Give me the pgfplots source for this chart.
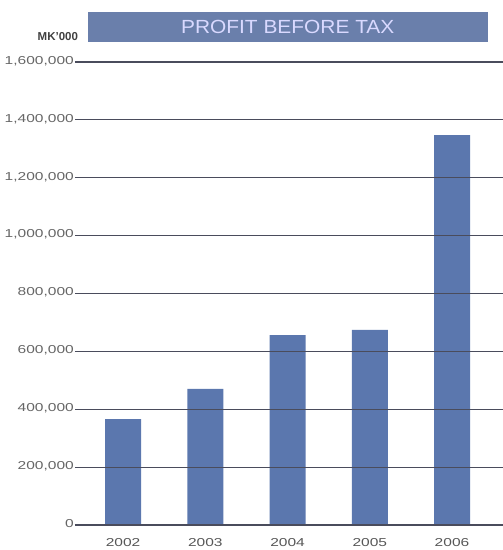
\documentclass[border=0pt]{standalone}
\usepackage{fontspec}
\usepackage{pgfplots}
\pgfplotsset{compat=1.18}
\setmainfont{Liberation Sans}
\newfontfamily\tickfont[FakeStretch=1.35]{Liberation Sans}
\newfontfamily\titlefont[FakeStretch=1.1]{Liberation Sans}
\definecolor{barblue}{HTML}{5B77AE}
\definecolor{titlebox}{HTML}{6A7FAB}
\definecolor{gridc}{HTML}{4A4C5C}
\definecolor{labc}{HTML}{666666}
\begin{document}
\begin{tikzpicture}
\begin{axis}[
  at={(75pt,25pt)}, anchor=south west,
  scale only axis, width=428pt, height=463pt,
  xmin=-0.585, xmax=4.62, ymin=0, ymax=1600000,
  xtick={0,1,2,3,4}, xticklabels={2002,2003,2004,2005,2006},
  ytick={0,200000,400000,600000,800000,1000000,1200000,1400000,1600000},
  scaled y ticks=false,
  /pgf/number format/.cd, fixed, 1000 sep={,}, assume math mode=true, /pgfplots/.cd,
  yticklabel style={font=\tickfont\fontsize{11.5}{12}\selectfont, text=labc, inner sep=0pt, xshift=-1pt, yshift=1pt},
  xticklabel style={font=\tickfont\fontsize{11.5}{12}\selectfont, text=labc!85!black, yshift=-6pt},
  axis line style={draw=none},
  tick style={draw=none},
  ymajorgrids, grid style={gridc, line width=1.1pt},
  ybar, bar width=36pt,
  axis on top,
  clip=false,
]
\addplot[fill=barblue, draw=none] coordinates {(0,366000) (1,470000) (2,656000) (3,674000) (4,1347000)};
\node[fill=titlebox, minimum width=400pt, minimum height=30pt, inner sep=0pt, text=white!85!blue, font=\titlefont\fontsize{19}{20}\selectfont] at (rel axis cs:0.497,1.075) {PROFIT BEFORE TAX};
\node[font=\bfseries\fontsize{11.5}{12}\selectfont, text=black!75] at (rel axis cs:-0.04,1.054) {MK'000};
\end{axis}
\pgfresetboundingbox
\path (0,0) rectangle (503pt,550pt);
\end{tikzpicture}
\end{document}
